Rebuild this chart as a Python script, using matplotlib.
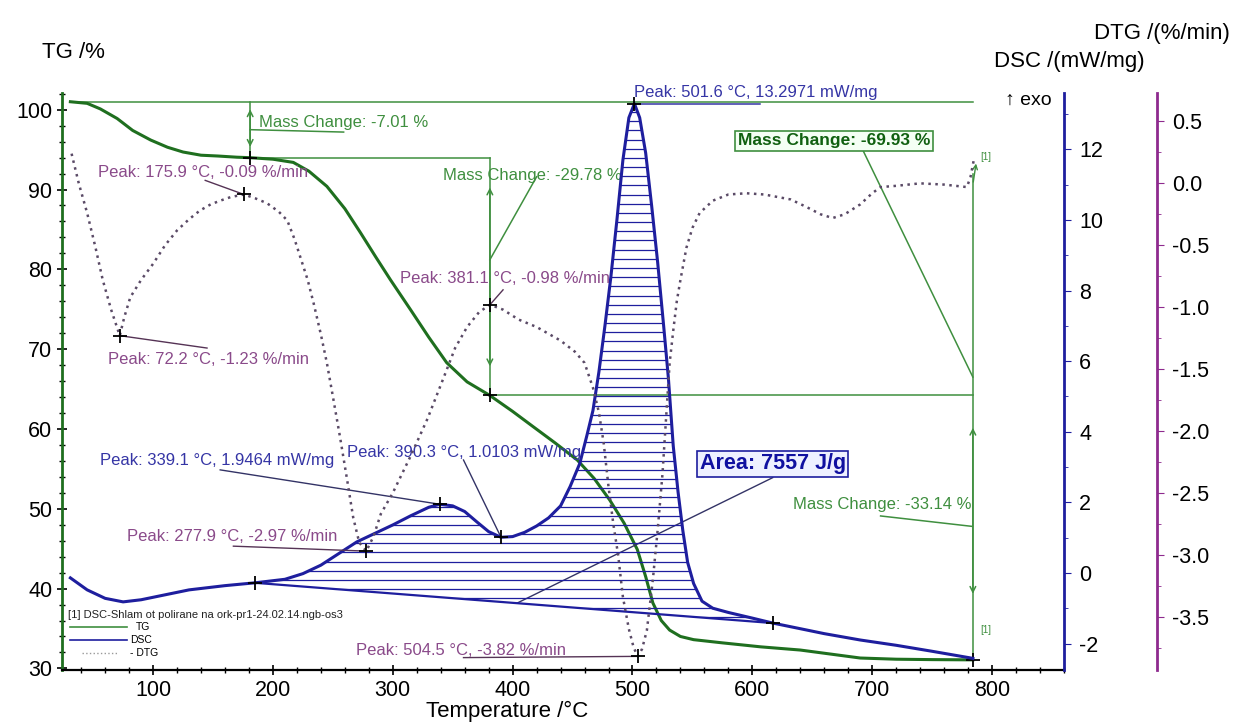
import numpy as np
import matplotlib.pyplot as plt
from matplotlib.patches import Polygon
from matplotlib.ticker import MultipleLocator, FormatStrFormatter

plt.rcParams['font.family'] = ['Liberation Sans', 'DejaVu Sans']
plt.rcParams['axes.unicode_minus'] = False

# TG curve (%)
temp_tg = [31, 45, 56, 70, 83, 98, 112, 125, 140, 154, 170, 181, 200, 217, 230, 245, 260, 273, 286,
           298, 315, 330, 345, 362, 381, 400, 417, 435, 454, 468, 481, 493, 504, 511, 517, 524, 531,
           540, 551, 575, 607, 640, 670, 690, 720, 750, 784]
tg = [101.0, 100.8, 100.1, 98.9, 97.4, 96.2, 95.3, 94.7, 94.3, 94.2, 94.05, 93.99, 93.8, 93.4, 92.3,
      90.4, 87.6, 84.6, 81.5, 78.7, 74.9, 71.5, 68.3, 65.9, 64.2, 62.2, 60.3, 58.3, 56.1, 53.8, 51.1,
      48.2, 44.9, 41.5, 38.2, 36.0, 34.8, 34.0, 33.6, 33.2, 32.7, 32.3, 31.7, 31.3, 31.15, 31.1, 31.07]

# DSC curve (mW/mg)
temp_dsc = [31, 45, 60, 75, 90, 110, 130, 160, 185, 210, 225, 240, 255, 270, 285, 300, 315, 330, 339.1,
            350, 360, 370, 380, 390.3, 400, 410, 420, 430, 440, 448, 456, 462, 467, 472, 477, 482, 487,
            492, 497, 501.6, 506, 511, 516, 521, 526, 530, 534, 538, 542, 546, 551, 558, 567, 580, 600,
            617, 640, 660, 690, 720, 750, 784]
dsc = [-0.14, -0.48, -0.72, -0.82, -0.76, -0.62, -0.48, -0.36, -0.28, -0.18, -0.02, 0.22, 0.55, 0.88,
       1.12, 1.36, 1.62, 1.86, 1.9464, 1.90, 1.74, 1.45, 1.17, 1.0103, 1.03, 1.15, 1.33, 1.56, 1.90, 2.45,
       3.1, 3.9, 4.6, 5.7, 7.0, 8.4, 10.0, 11.7, 12.9, 13.2971, 12.9, 11.9, 10.4, 8.8, 7.0, 5.5, 3.6, 2.3,
       1.2, 0.3, -0.3, -0.8, -1.0, -1.12, -1.28, -1.42, -1.58, -1.72, -1.9, -2.05, -2.22, -2.42]

# DSC integration baseline
base_t = [185, 617]
base_v = [-0.28, -1.42]

# DTG curve (%/min)
temp_dtg = [32, 38, 45, 52, 58, 65, 72.2, 76, 81, 90, 100, 110, 120, 130, 139, 148, 156, 165, 175.9,
            185, 195, 205, 212, 218, 223, 229, 234, 240, 245, 250, 256, 262, 267, 272, 277.9, 284, 290,
            300, 315, 329, 342, 352, 362, 372, 381.1, 392, 405, 420, 440, 452, 460, 467, 472, 476, 480,
            484, 488, 492, 497, 501, 504.5, 508, 512, 517, 521, 525, 528, 531, 534, 537, 540, 545, 550,
            556, 567, 580, 595, 610, 621, 632, 645, 657, 667, 677, 690, 700, 707, 720, 740, 760, 779,
            782, 785]
dtg = [0.24, 0.0, -0.24, -0.52, -0.78, -1.02, -1.23, -1.08, -0.92, -0.78, -0.65, -0.50, -0.38, -0.29,
       -0.22, -0.17, -0.14, -0.11, -0.09, -0.12, -0.16, -0.23, -0.30, -0.45, -0.6, -0.78, -0.97, -1.22,
       -1.45, -1.72, -2.05, -2.4, -2.7, -2.9, -2.97, -2.85, -2.67, -2.5, -2.2, -1.9, -1.58, -1.33, -1.16,
       -1.04, -0.98, -1.02, -1.1, -1.16, -1.27, -1.36, -1.45, -1.65, -1.85, -2.1, -2.45, -2.75, -3.0,
       -3.34, -3.6, -3.75, -3.82, -3.76, -3.61, -3.2, -2.8, -2.35, -1.9, -1.45, -1.19, -0.95, -0.78,
       -0.52, -0.36, -0.24, -0.14, -0.09, -0.08, -0.09, -0.11, -0.13, -0.19, -0.25, -0.28, -0.25, -0.17,
       -0.08, -0.03, -0.02, 0.0, -0.01, -0.03, 0.05, 0.2]

green = '#1f6f1f'
green_txt = '#3f8f3f'
blue = '#1e1e9e'
blue_txt = '#3535a5'
purple = '#8e2a8e'
purple_txt = '#8a4a8a'
dotc = '#5a4a66'
small = 12

fig = plt.figure(figsize=(12.35, 7.24), dpi=100)
ax = fig.add_axes([0.0502, 0.0746, 0.8113, 0.7970])
ax2 = ax.twinx()
ax3 = ax.twinx()

ax.set_xlim(24, 860)
ax.set_ylim(29.8, 102.1)
ax2.set_ylim(-2.75, 13.6)
ax3.set_ylim(-3.93, 0.73)

# spines
ax.spines['top'].set_visible(False)
ax.spines['right'].set_visible(False)
ax.spines['left'].set_color(green)
ax.spines['left'].set_linewidth(2)
ax.spines['bottom'].set_linewidth(1.6)
for a in (ax2, ax3):
    for s in ('top', 'left', 'bottom'):
        a.spines[s].set_visible(False)
ax2.spines['right'].set_color(blue)
ax2.spines['right'].set_linewidth(2)
ax3.spines['right'].set_position(('axes', 1.0928))
ax3.spines['right'].set_color(purple)
ax3.spines['right'].set_linewidth(2)

# ticks
ax.xaxis.set_major_locator(MultipleLocator(100))
ax.xaxis.set_minor_locator(MultipleLocator(20))
ax.yaxis.set_major_locator(MultipleLocator(10))
ax.yaxis.set_minor_locator(MultipleLocator(2))
ax.tick_params(axis='both', which='major', direction='inout', length=7, width=1.2, labelsize=15.5)
ax.tick_params(axis='both', which='minor', direction='inout', length=4, width=1)
ax2.yaxis.set_major_locator(MultipleLocator(2))
ax2.yaxis.set_minor_locator(MultipleLocator(1))
ax2.tick_params(which='major', direction='out', length=5, color=blue, labelsize=15.5, pad=6)
ax2.tick_params(which='minor', direction='out', length=3, color=blue)
ax3.yaxis.set_major_locator(MultipleLocator(0.5))
ax3.yaxis.set_minor_locator(MultipleLocator(0.25))
ax3.yaxis.set_major_formatter(FormatStrFormatter('%.1f'))
ax3.tick_params(which='major', direction='out', length=5, color=purple, labelsize=15.5, pad=6)
ax3.tick_params(which='minor', direction='out', length=3, color=purple)

# curves
ax.plot(temp_tg, tg, color=green, lw=2.2, zorder=5)
ax2.plot(temp_dsc, dsc, color=blue, lw=2.2, zorder=5)
ax2.plot(base_t, base_v, color=blue, lw=1.6, zorder=4)
ax3.plot(temp_dtg, dtg, color=dotc, lw=1.8, linestyle=(0, (1, 1.8)), zorder=5)

# hatched peak area between DSC curve and baseline
t_arr = np.array(temp_dsc)
d_arr = np.array(dsc)
m = (t_arr >= base_t[0]) & (t_arr <= base_t[1])
verts = np.column_stack([t_arr[m], d_arr[m]]).tolist() + [[base_t[1], base_v[1]], [base_t[0], base_v[0]]]
clip = Polygon(verts, closed=True, facecolor='none', edgecolor='none', transform=ax2.transData)
ax2.add_patch(clip)
hl = ax2.hlines(np.arange(-1.5, 13.5, 0.26), base_t[0], base_t[1], colors=blue, lw=0.9, zorder=3)
hl.set_clip_path(clip)

# mass change construction lines (TG axis)
ax.plot([31, 784], [101.0, 101.0], color=green_txt, lw=1.1)
ax.plot([181, 381], [93.99, 93.99], color=green_txt, lw=1.1)
ax.plot([381, 784], [64.2, 64.2], color=green_txt, lw=1.1)
ax.plot([181, 181], [101.0, 93.99], color=green_txt, lw=1.1)
ax.plot([381, 381], [93.99, 64.2], color=green_txt, lw=1.1)
ax.plot([784, 784], [92.0, 31.07], color=green_txt, lw=1.1)
for x0, y0, y1 in [(181, 100.4, 95.0), (381, 90.6, 67.5), (784, 60.5, 39.0)]:
    ax.annotate('', xy=(x0, y0), xytext=(x0, y1),
                arrowprops=dict(arrowstyle='<->', color=green_txt, lw=1.1, mutation_scale=10))
ax.annotate('', xy=(787, 93.6), xytext=(784, 90.6),
            arrowprops=dict(arrowstyle='->', color=green_txt, lw=1.0, mutation_scale=8))

ax.plot([181, 259], [97.5, 97.2], color=green_txt, lw=1.1)
ax.text(188, 98.4, 'Mass Change: -7.01 %', color=green_txt, fontsize=small, va='center')
ax.plot([381, 420], [81.2, 91.6], color=green_txt, lw=1.1)
ax.text(342, 91.7, 'Mass Change: -29.78 %', color=green_txt, fontsize=small, va='center')
ax.plot([707, 783], [49.1, 47.8], color=green_txt, lw=1.1)
ax.text(634, 50.5, 'Mass Change: -33.14 %', color=green_txt, fontsize=small, va='center')
ax.plot([692, 784], [95.0, 66.5], color=green_txt, lw=1.1)
ax.text(668, 96.1, 'Mass Change: -69.93 %', color='#106010', fontsize=12.5, fontweight='bold',
        ha='center', va='center', zorder=8,
        bbox=dict(boxstyle='square,pad=0.15', facecolor='#f4fff4', edgecolor=green_txt, lw=1.2))
ax.text(790, 94.1, '[1]', color=green_txt, fontsize=7, va='center')
ax.text(790, 34.8, '[1]', color=green_txt, fontsize=7, va='center')
ax.plot([181, 381, 784], [93.99, 64.2, 31.07], '+', color='black', ms=10, mew=1.3, zorder=7)

# DSC annotations
ax2.plot([501.6, 606], [13.3, 13.3], color=blue_txt, lw=1.1)
ax2.text(501.6, 13.6, 'Peak: 501.6 °C, 13.2971 mW/mg', color=blue_txt, fontsize=small, va='center')
ax2.plot([156, 339.1], [2.92, 1.9464], color='#333366', lw=1.0)
ax2.text(56, 3.2, 'Peak: 339.1 °C, 1.9464 mW/mg', color=blue_txt, fontsize=small, va='center')
ax2.plot([359, 390.3], [3.2, 1.0103], color='#333366', lw=1.0)
ax2.text(262, 3.4, 'Peak: 390.3 °C, 1.0103 mW/mg', color=blue_txt, fontsize=small, va='center')
ax2.plot([617, 404], [2.7, -0.85], color='#333366', lw=1.0)
ax2.text(617, 3.09, 'Area: 7557 J/g', color='#1010a0', fontsize=15.5, fontweight='bold',
         ha='center', va='center', zorder=8,
         bbox=dict(boxstyle='square,pad=0.12', facecolor='#eef0ff', edgecolor=blue, lw=1.2))
ax2.plot([185, 339.1, 390.3, 501.6, 617], [-0.28, 1.9464, 1.0103, 13.2971, -1.42], '+',
         color='black', ms=10, mew=1.3, zorder=7)

# DTG annotations
dtg_labels = [(54, 0.09, 'Peak: 175.9 °C, -0.09 %/min', [143.5, 175.9], [0.024, -0.09]),
              (62, -1.42, 'Peak: 72.2 °C, -1.23 %/min', [72.2, 145], [-1.23, -1.33]),
              (306, -0.77, 'Peak: 381.1 °C, -0.98 %/min', [381.1, 392], [-0.98, -0.86]),
              (78, -2.85, 'Peak: 277.9 °C, -2.97 %/min', [167, 277.9], [-2.93, -2.97]),
              (269, -3.77, 'Peak: 504.5 °C, -3.82 %/min', [359, 504.5], [-3.83, -3.82])]
for x0, y0, txt, lx, ly in dtg_labels:
    ax3.text(x0, y0, txt, color=purple_txt, fontsize=small, va='center')
    ax3.plot(lx, ly, color='#553355', lw=1.0)
ax3.plot([72.2, 175.9, 277.9, 381.1, 504.5], [-1.23, -0.09, -2.97, -0.98, -3.82], '+',
         color='black', ms=10, mew=1.3, zorder=7)

# exo marker
ax.text(0.941, 0.988, '↑ exo', transform=ax.transAxes, fontsize=14, va='center', ha='left')

# small legend block
ax.text(0.006, 0.095, '[1] DSC-Shlam ot polirane na ork-pr1-24.02.14.ngb-os3', transform=ax.transAxes,
        fontsize=8, va='center', color='#222222')
ax.plot([0.008, 0.065], [0.074, 0.074], transform=ax.transAxes, color=green_txt, lw=1.2)
ax.plot([0.008, 0.065], [0.052, 0.052], transform=ax.transAxes, color=blue, lw=1.2)
ax.plot([0.02, 0.055], [0.030, 0.030], transform=ax.transAxes, color='#999999', lw=1.0, linestyle=':')
ax.text(0.074, 0.074, 'TG', transform=ax.transAxes, fontsize=7.5, va='center')
ax.text(0.068, 0.052, 'DSC', transform=ax.transAxes, fontsize=7.5, va='center')
ax.text(0.068, 0.030, '- DTG', transform=ax.transAxes, fontsize=7.5, va='center')

# axis titles
fig.text(42 / 1235, 1 - 52 / 724, 'TG /%', fontsize=16, va='center', ha='left')
fig.text(1145 / 1235, 1 - 62 / 724, 'DSC /(mW/mg)', fontsize=16, va='center', ha='right')
fig.text(1230 / 1235, 1 - 33 / 724, 'DTG /(%/min)', fontsize=16, va='center', ha='right')
fig.text(507 / 1235, 1 - 711 / 724, 'Temperature /°C', fontsize=16, va='center', ha='center')

fig.savefig('out.png', dpi=100)
